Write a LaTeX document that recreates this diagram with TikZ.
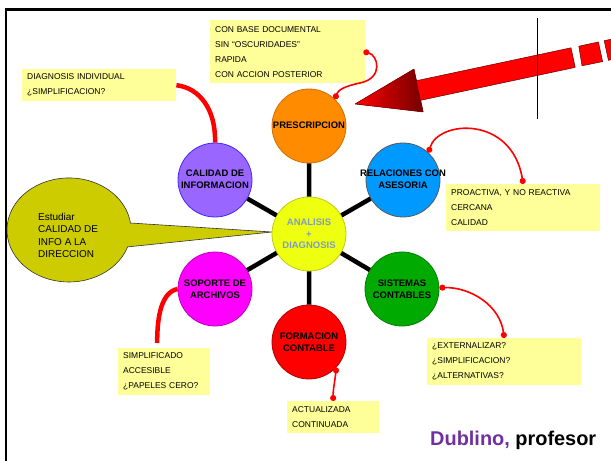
\documentclass[tikz,border=0pt]{standalone}
\usepackage{fontspec}
\setmainfont{Liberation Sans}
\usetikzlibrary{arrows.meta}

\definecolor{noteyellow}{HTML}{FFFF99}
\definecolor{prescfill}{HTML}{FF8C00}
\definecolor{calidfill}{HTML}{9966FF}
\definecolor{relacfill}{HTML}{0099FF}
\definecolor{cenfill}{HTML}{EEFF10}
\definecolor{soporfill}{HTML}{FF00FF}
\definecolor{formafill}{HTML}{FF0000}
\definecolor{sistefill}{HTML}{00AA00}
\definecolor{bubfill}{HTML}{CCCC00}
\definecolor{centext}{HTML}{7E9CC0}
\definecolor{dublino}{HTML}{7030A0}

% text that may be wider than its disc
\newcommand\disctext[1]{\makebox[0pt]{\begin{tabular}{@{}c@{}}#1\end{tabular}}}

\begin{document}
\begin{tikzpicture}[x = 1bp, y = -1bp,
        disc/.style = {circle, minimum size = 74bp, inner sep = 0pt, fill = #1, line width = 0.8bp, align = center, font = \bfseries\fontsize{9.5}{12.5}\selectfont},
        note/.style 2 args = {fill = noteyellow, anchor = north west, inner xsep = 5bp, inner ysep = 0pt, text width = #1, minimum height = #2, align = left, font = \fontsize{8.5}{15}\selectfont},
        spoke/.style = {line width = 4.5bp, black},
        link/.style = {red, line width = 1.6bp, {Circle[length = 6bp]}-{Circle[length = 6bp]}},
        thick link/.style = {red, line width = 4.5bp}]
    \useasboundingbox (0, 0) rectangle (611, 461);

    \begin{scope}
        \clip (0, 0) rectangle (611, 461);
        % frame
        \draw[line width = 2.6bp] (6, 470) -- (6, 9.5) -- (620, 9.5);
        % big arrow
        \fill[red] (355, 104) -- (414.0, 69.0) -- (416.5, 80.7) -- (571.0, 47.8) -- (575.2, 67.4) -- (420.7, 100.3) -- (423.2, 112.0) -- cycle;
        \shade[left color = red, right color = red!45!black] (355, 104) -- (414.0, 69.0) -- (416.5, 80.7) -- (420.7, 100.3) -- (423.2, 112.0) -- cycle;
        \filldraw[fill = red, draw = red!40!black, line width = 0.5bp]
            (578.8, 46.2) -- (598.4, 42.0) -- (602.6, 61.6) -- (582.0, 65.8) -- cycle
            (604.2, 40.7) -- (636.5, 33.9) -- (640.7, 53.5) -- (608.4, 60.3) -- cycle;
        \draw[red!40!black, line width = 0.5bp, line join = round] (355, 104) -- (414.0, 69.0) -- (416.5, 80.7) -- (571.0, 47.8) -- (575.2, 67.4) -- (420.7, 100.3) -- (423.2, 112.0) -- cycle;
        \draw[line width = 0.8bp] (537, 18) -- (537, 119);
    \end{scope}

    % speech bubble
    \coordinate (bubtip) at (272, 232);
    \filldraw[fill = bubfill, draw = black!80, line width = 0.6bp] (bubtip) -- (127.6, 246.9) arc[start angle = 19, end angle = 352.3, x radius = 62, y radius = 52] -- cycle;
    \node[anchor = west, align = left, inner sep = 0pt, font = \fontsize{10}{12.3}\selectfont] (bubtext) at (38, 235.5) {Estudiar\\CALIDAD DE\\INFO A LA\\DIRECCION};

    % circles
    \node[disc = cenfill, draw = cenfill!80!black, text = centext, font = \bfseries\fontsize{9.5}{11.5}\selectfont] (cen) at (309, 234) {ANALISIS\\+\\DIAGNOSIS};
    \node[disc = prescfill, draw = prescfill!80!black] (presc) at (309, 126) {\disctext{PRESCRIPCION}};
    \node[disc = calidfill, draw = blue!60!calidfill] (calid) at (215, 180) {\disctext{CALIDAD DE\\INFORMACION}};
    \node[disc = relacfill, draw = black!65] (relac) at (403, 180) {\disctext{RELACIONES CON\\ASESORIA}};
    \node[disc = soporfill, draw = soporfill!75!black] (sopor) at (215, 289) {SOPORTE DE\\ARCHIVOS};
    \node[disc = formafill, draw = formafill!70!black] (forma) at (309, 342) {FORMACION\\CONTABLE};
    \node[disc = sistefill, draw = sistefill!75!black] (siste) at (402, 289) {SISTEMAS\\CONTABLES};

    \draw[spoke] (cen) -- (presc) (cen) -- (relac) (cen) -- (siste)
                 (cen) -- (forma) (cen) -- (sopor) (cen) -- (calid);

    % notes
    \node[note = {145bp}{63bp}] (topnote) at (210, 20) {CON BASE DOCUMENTAL\\SIN “OSCURIDADES”\\RAPIDA\\CON ACCION POSTERIOR};
    \node[note = {144bp}{32bp}] (leftnote) at (22, 69) {DIAGNOSIS INDIVIDUAL\\¿SIMPLIFICACION?};
    \node[note = {144bp}{47bp}] (relnote) at (446, 184) {PROACTIVA, Y NO REACTIVA\\CERCANA\\CALIDAD};
    \node[note = {144bp}{47bp}] (sisnote) at (427, 338) {¿EXTERNALIZAR?\\¿SIMPLIFICACION?\\¿ALTERNATIVAS?};
    \node[note = {82bp}{47bp}] (sopnote) at (118, 348) {SIMPLIFICADO\\ACCESIBLE\\¿PAPELES CERO?};
    \node[note = {82bp}{32bp}] (fornote) at (287, 401) {ACTUALIZADA\\CONTINUADA};

    % connectors
    \draw[link] ([xshift = -2bp]topnote.east) .. controls (378, 55) and (384, 78) .. (360, 83) .. controls (345, 86) and (338, 90) .. (presc.46);
    \draw[link] (relac.47) .. controls (438, 120) and (512, 115) .. (relnote.north);
    \draw[link] (siste.2) .. controls (470, 287) and (500, 305) .. (sisnote.north);
    \draw[link] (forma.-43) .. controls (335, 380) and (333, 390) .. (fornote.north);
    \draw[thick link] (leftnote.east) .. controls (200, 88) and (216, 110) .. (calid.north);
    \draw[thick link] (sopor.west) .. controls (162, 292) and (157, 315) .. ([xshift = -7bp, yshift = 5bp]sopnote.north);

    \node[anchor = base west, inner sep = 0pt, font = \bfseries\fontsize{20}{23}\selectfont] (sign) at (430, 445) {\textcolor{dublino}{Dublino,} profesor};
\end{tikzpicture}
\end{document}
